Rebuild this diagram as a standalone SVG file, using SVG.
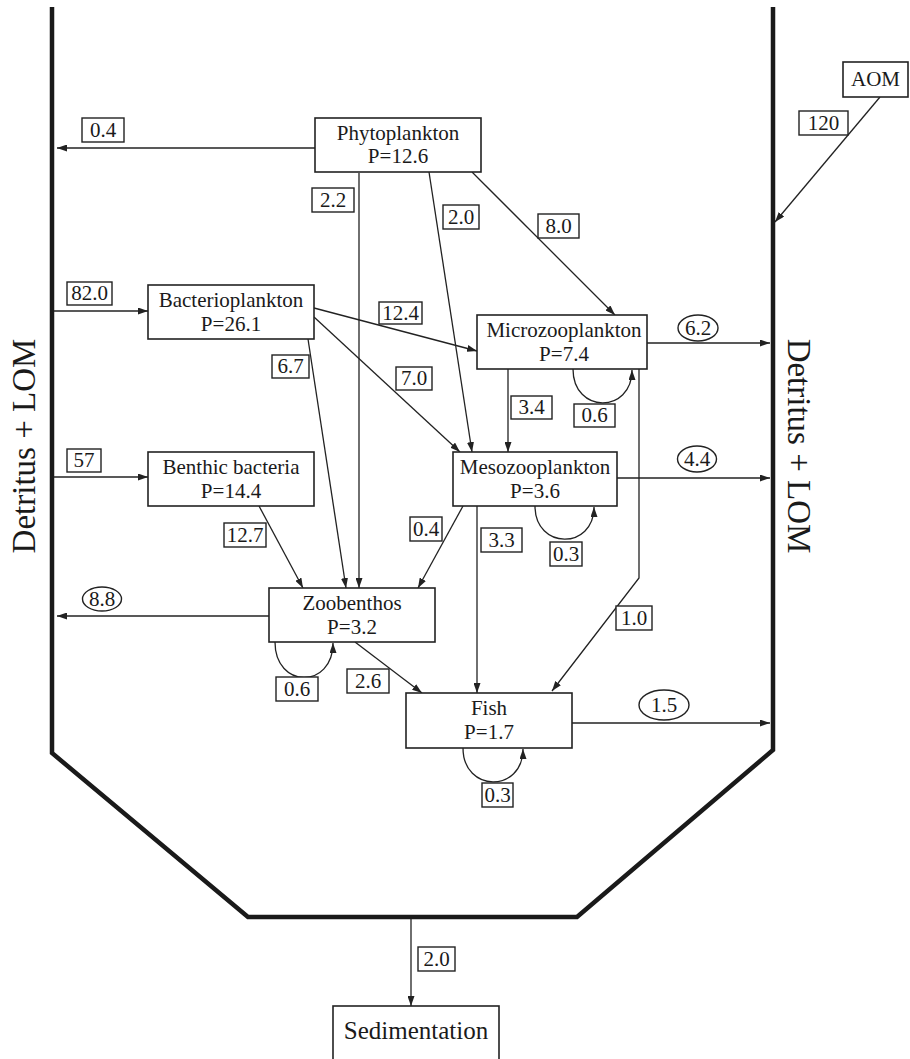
<svg xmlns="http://www.w3.org/2000/svg" width="910" height="1059" viewBox="0 0 910 1059">
<defs>
<marker id="ah" viewBox="0 0 10 7" refX="10" refY="3.5" markerUnits="userSpaceOnUse" markerWidth="10" markerHeight="7" orient="auto">
<path d="M0,0 L10,3.5 L0,7 z" fill="#222"/>
</marker>
<style>
text{font-family:"Liberation Serif","Times New Roman",serif;fill:#1a1a1a;}
.n{font-size:21px;text-anchor:middle;}
.l{font-size:21px;text-anchor:middle;}
.box{fill:#fff;stroke:#222;stroke-width:1.6;}
.lb{fill:#fff;stroke:#222;stroke-width:1.4;}
.c{fill:none;stroke:#222;stroke-width:1.3;marker-end:url(#ah);}
.wall{fill:none;stroke:#1a1a1a;stroke-width:4.5;stroke-linejoin:miter;}
.side{font-size:33px;text-anchor:middle;}
</style>
</defs>
<rect width="910" height="1059" fill="#fff"/>
<polyline class="wall" points="52,7 52,753 248,917 577,917 773,750 773,7"/>
<text class="side" transform="translate(35,446) rotate(-90)">Detritus + LOM</text>
<text class="side" transform="translate(788,446) rotate(90)">Detritus + LOM</text>

<g id="connectors">
<path class="c" d="M315,148 L57,148"/>
<path class="c" d="M359,173 L359,588"/>
<path class="c" d="M429,172 L472,452"/>
<path class="c" d="M472,172 L615,315"/>
<path class="c" d="M880,97 L775,222"/>
<path class="c" d="M54,311 L148,311"/>
<path class="c" d="M54,477 L148,477"/>
<path class="c" d="M314,308 L477,351"/>
<path class="c" d="M314,317 L460,452"/>
<path class="c" d="M308,339 L346,588"/>
<path class="c" d="M259,506 L303,588"/>
<path class="c" d="M463,506 L418,588"/>
<path class="c" d="M647,343 L770,343"/>
<path class="c" d="M573,369 C573,414 632,414 632,370"/>
<path class="c" d="M508,369 L508,452"/>
<path class="c" d="M639,369 L639,578 L552,691"/>
<path class="c" d="M617,478 L770,478"/>
<path class="c" d="M535,506 C535,550 594,550 594,507"/>
<path class="c" d="M477,506 L477,693"/>
<path class="c" d="M269,616 L57,616"/>
<path class="c" d="M275,642 C275,689 333,689 333,643"/>
<path class="c" d="M355,642 L422,693"/>
<path class="c" d="M572,723 L770,723"/>
<path class="c" d="M463,748 C463,793 523,793 523,749"/>
<path class="c" d="M411,919 L411,1006"/>
</g>

<g id="labels">
<rect class="lb" x="82" y="118" width="42" height="24"/><text class="l" x="103" y="137">0.4</text>
<rect class="lb" x="312" y="188" width="42" height="24"/><text class="l" x="333" y="207">2.2</text>
<rect class="lb" x="443" y="205" width="36" height="24"/><text class="l" x="461" y="224">2.0</text>
<rect class="lb" x="538" y="214" width="41" height="24"/><text class="l" x="558.5" y="233">8.0</text>
<rect class="lb" x="799" y="111" width="49" height="24"/><text class="l" x="823.5" y="130">120</text>
<rect class="lb" x="67" y="282" width="45" height="23"/><text class="l" x="89.5" y="300">82.0</text>
<rect class="lb" x="67" y="449" width="34" height="23"/><text class="l" x="84" y="467">57</text>
<rect class="lb" x="379" y="302" width="43" height="22"/><text class="l" x="400.5" y="320">12.4</text>
<rect class="lb" x="396" y="367" width="36" height="23"/><text class="l" x="414" y="385">7.0</text>
<rect class="lb" x="272" y="355" width="37" height="23"/><text class="l" x="290.5" y="373">6.7</text>
<rect class="lb" x="224" y="523" width="42" height="24"/><text class="l" x="245" y="542">12.7</text>
<rect class="lb" x="410" y="517" width="32" height="24"/><text class="l" x="426" y="536">0.4</text>
<rect class="lb" x="511" y="396" width="41" height="23"/><text class="l" x="531.5" y="414">3.4</text>
<rect class="lb" x="574" y="404" width="41" height="23"/><text class="l" x="594.5" y="422">0.6</text>
<rect class="lb" x="550" y="542" width="32" height="24"/><text class="l" x="566" y="561">0.3</text>
<rect class="lb" x="481" y="528" width="41" height="24"/><text class="l" x="501.5" y="547">3.3</text>
<rect class="lb" x="616" y="606" width="36" height="24"/><text class="l" x="634" y="625">1.0</text>
<rect class="lb" x="276" y="677" width="42" height="24"/><text class="l" x="297" y="696">0.6</text>
<rect class="lb" x="347" y="669" width="42" height="24"/><text class="l" x="368" y="688">2.6</text>
<rect class="lb" x="482" y="783" width="31" height="24"/><text class="l" x="497.5" y="802">0.3</text>
<rect class="lb" x="418" y="947" width="37" height="24"/><text class="l" x="436.5" y="966">2.0</text>
<ellipse class="lb" cx="698" cy="328" rx="20" ry="13"/><text class="l" x="698" y="335">6.2</text>
<ellipse class="lb" cx="697" cy="459" rx="19.5" ry="13"/><text class="l" x="697" y="466">4.4</text>
<ellipse class="lb" cx="102" cy="599" rx="19.5" ry="12"/><text class="l" x="102" y="606">8.8</text>
<ellipse class="lb" cx="664" cy="705" rx="25" ry="15"/><text class="l" x="664" y="712">1.5</text>
</g>

<g id="phytoplankton">
<rect class="box" x="315" y="118" width="166" height="54"/>
<text class="n" x="398" y="140">Phytoplankton</text>
<text class="n" x="398" y="163">P=12.6</text>
</g>
<g id="bacterioplankton">
<rect class="box" x="148" y="285" width="166" height="54"/>
<text class="n" x="231" y="307">Bacterioplankton</text>
<text class="n" x="231" y="331">P=26.1</text>
</g>
<g id="benthic-bacteria">
<rect class="box" x="148" y="452" width="166" height="54"/>
<text class="n" x="231" y="474">Benthic bacteria</text>
<text class="n" x="231" y="498">P=14.4</text>
</g>
<g id="microzooplankton">
<rect class="box" x="477" y="315" width="170" height="54"/>
<text class="n" x="564" y="337">Microzooplankton</text>
<text class="n" x="564" y="361">P=7.4</text>
</g>
<g id="mesozooplankton">
<rect class="box" x="453" y="452" width="164" height="54"/>
<text class="n" x="535" y="474">Mesozooplankton</text>
<text class="n" x="535" y="498">P=3.6</text>
</g>
<g id="zoobenthos">
<rect class="box" x="269" y="588" width="166" height="54"/>
<text class="n" x="352" y="610">Zoobenthos</text>
<text class="n" x="352" y="634">P=3.2</text>
</g>
<g id="fish">
<rect class="box" x="406" y="693" width="166" height="55"/>
<text class="n" x="489" y="715">Fish</text>
<text class="n" x="489" y="739">P=1.7</text>
</g>
<g id="aom">
<rect class="box" x="843" y="62" width="65" height="35"/>
<text class="n" x="875.5" y="86" style="font-size:21px">AOM</text>
</g>
<g id="sedimentation">
<rect class="box" x="333" y="1006" width="166" height="70"/>
<text class="n" x="416" y="1039" style="font-size:25px">Sedimentation</text>
</g>
</svg>
